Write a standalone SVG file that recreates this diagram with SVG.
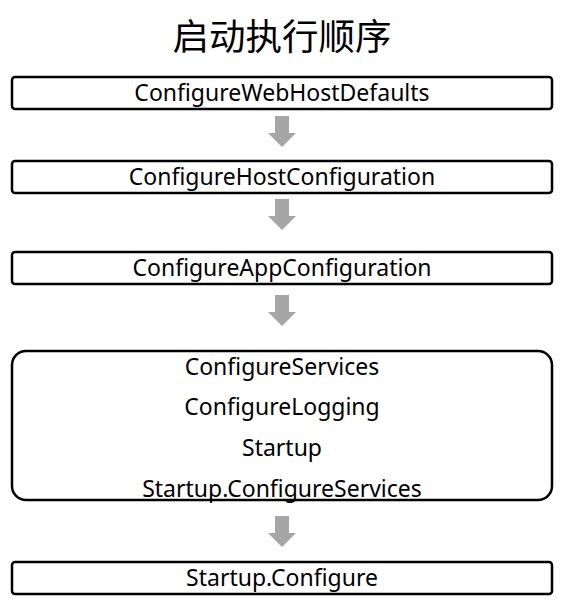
<svg xmlns="http://www.w3.org/2000/svg" width="567" height="609" viewBox="0 0 567 609">
<style>
.box{fill:#fff;stroke:#000;stroke-width:2.5}
.t{font-family:"Noto Sans","Open Sans",sans-serif;font-size:23px;fill:#000;text-anchor:middle}
.title{font-family:"Noto Sans CJK SC",sans-serif;font-size:36.5px;fill:#000;text-anchor:middle}
.arr{fill:#a6a6a6}
</style>
<defs>
<path id="arrow" d="M-7,0 H7 V17 H14 L0,31 L-14,17 H-7 Z"/>
</defs>
<rect width="567" height="609" fill="#fff"/>
<text class="title" x="282" y="50">启动执行顺序</text>
<g id="connectors">
<use href="#arrow" class="arr" x="282" y="116"/>
<use href="#arrow" class="arr" x="282" y="199"/>
<use href="#arrow" class="arr" x="282" y="295"/>
<use href="#arrow" class="arr" x="282" y="516"/>
</g>
<g id="n1"><rect class="box" x="12" y="77" width="540" height="32" rx="3"/><text class="t" x="282" y="101">ConfigureWebHostDefaults</text></g>
<g id="n2"><rect class="box" x="12" y="161" width="540" height="32" rx="3"/><text class="t" x="282" y="185">ConfigureHostConfiguration</text></g>
<g id="n3"><rect class="box" x="12" y="252" width="540" height="32" rx="3"/><text class="t" x="282" y="276">ConfigureAppConfiguration</text></g>
<g id="n4"><rect class="box" x="12" y="351" width="540" height="149" rx="14"/>
<text class="t" x="282" y="375">ConfigureServices</text>
<text class="t" x="282" y="415">ConfigureLogging</text>
<text class="t" x="282" y="456">Startup</text>
<text class="t" x="282" y="497">Startup.ConfigureServices</text></g>
<g id="n5"><rect class="box" x="12" y="562" width="540" height="32" rx="3"/><text class="t" x="282" y="586">Startup.Configure</text></g>
</svg>
